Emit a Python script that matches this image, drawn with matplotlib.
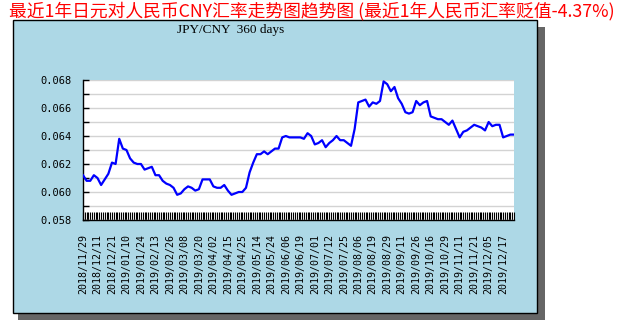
import numpy as np
import matplotlib.pyplot as plt
from matplotlib.patches import Rectangle
from matplotlib.ticker import MultipleLocator

plt.rcParams['font.family'] = ['Noto Sans CJK SC', 'DejaVu Sans']

title = "最近1年日元对人民币CNY汇率走势图趋势图 (最近1年人民币汇率贬值-4.37%)"
subtitle = "JPY/CNY  360 days"

date_labels = [
    "2018/11/29", "2018/12/11", "2018/12/21", "2019/01/10", "2019/01/24",
    "2019/02/13", "2019/02/26", "2019/03/08", "2019/03/20", "2019/04/02",
    "2019/04/15", "2019/04/25", "2019/05/14", "2019/05/24", "2019/06/06",
    "2019/06/19", "2019/07/01", "2019/07/12", "2019/07/25", "2019/08/06",
    "2019/08/19", "2019/08/29", "2019/09/11", "2019/09/26", "2019/10/16",
    "2019/10/29", "2019/11/11", "2019/11/21", "2019/12/05", "2019/12/17",
]
label_every = 8      # trading days between date labels
n_days = 240         # trading days shown (one tick per day)

# rate read every 2 trading days
rates = [
    0.0612, 0.0608, 0.0608, 0.0612, 0.0610, 0.0605, 0.0609, 0.0613, 0.0621, 0.0620,
    0.0638, 0.0631, 0.0630, 0.0624, 0.0621, 0.0620, 0.0620, 0.0616, 0.0617, 0.0618,
    0.0612, 0.0612, 0.0608, 0.0606, 0.0605, 0.0603, 0.0598, 0.0599, 0.0602, 0.0604,
    0.0603, 0.0601, 0.0602, 0.0609, 0.0609, 0.0609, 0.0604, 0.0603, 0.0603, 0.0605,
    0.0601, 0.0598, 0.0599, 0.0600, 0.0600, 0.0603, 0.0614, 0.0621, 0.0627, 0.0627,
    0.0629, 0.0627, 0.0629, 0.0631, 0.0631, 0.0639, 0.0640, 0.0639, 0.0639, 0.0639,
    0.0639, 0.0638, 0.0642, 0.0640, 0.0634, 0.0635, 0.0637, 0.0632, 0.0635, 0.0637,
    0.0640, 0.0637, 0.0637, 0.0635, 0.0633, 0.0645, 0.0664, 0.0665, 0.0666, 0.0661,
    0.0664, 0.0663, 0.0665, 0.0679, 0.0677, 0.0672, 0.0675, 0.0667, 0.0663, 0.0657,
    0.0656, 0.0657, 0.0665, 0.0662, 0.0664, 0.0665, 0.0654, 0.0653, 0.0652, 0.0652,
    0.0650, 0.0648, 0.0651, 0.0645, 0.0639, 0.0643, 0.0644, 0.0646, 0.0648, 0.0647,
    0.0646, 0.0644, 0.0650, 0.0647, 0.0648, 0.0648, 0.0639, 0.0640, 0.0641, 0.0641,
]

W, H = 630, 320
fig = plt.figure(figsize=(W / 100, H / 100), dpi=100)
fig.patch.set_facecolor('white')

# pixel coords -> figure fraction
def fx(px):
    return px / W

def fy(py):
    return 1 - py / H

# shadow, then the light blue panel
fig.patches.append(Rectangle((fx(18), fy(320)), fx(527), fy(27) - fy(320),
                             transform=fig.transFigure, facecolor='#666666',
                             edgecolor='none', zorder=0))
fig.patches.append(Rectangle((fx(13), fy(313)), fx(524), fy(20) - fy(313),
                             transform=fig.transFigure, facecolor='#add8e6',
                             edgecolor='black', linewidth=1, zorder=1))

fig.text(fx(9), fy(11), title, color='#ff0000', fontsize=12.8, ha='left', va='center')
fig.text(fx(231), fy(30), subtitle, family=['Liberation Serif', 'DejaVu Serif'],
         fontsize=9.5, ha='center', va='center')

ax = fig.add_axes([fx(83), fy(220), fx(431), fy(80) - fy(220)])
ax.set_zorder(5)
ax.set_facecolor('white')

x = np.arange(len(rates)) * 2
ax.plot(x, rates, color='#0000ff', linewidth=1.6, zorder=3)

ax.set_xlim(0, n_days - 2)
ax.set_ylim(0.058, 0.068)

ax.yaxis.set_minor_locator(MultipleLocator(0.001))
ax.set_yticks(np.arange(0.058, 0.0681, 0.002))
ax.set_yticklabels(["%.3f" % v for v in np.arange(0.058, 0.0681, 0.002)])
ax.grid(True, which='both', axis='y', color='#d3d3d3', linewidth=1, zorder=1)
ax.tick_params(axis='y', which='both', direction='in', length=4, width=1,
               labelsize=7.5, pad=8)
for t in ax.get_yticklabels():
    t.set_family('DejaVu Sans Mono')

ticks = np.arange(n_days - 1)
labels = [""] * len(ticks)
for i, d in enumerate(date_labels):
    labels[i * label_every] = d
ax.set_xticks(ticks)
ax.set_xticklabels(labels, rotation=90, family='DejaVu Sans Mono', fontsize=7.2)
ax.tick_params(axis='x', direction='in', length=6, width=0.8, pad=10)

for s in ['top', 'right']:
    ax.spines[s].set_visible(False)
for s in ['left', 'bottom']:
    ax.spines[s].set_color('black')
    ax.spines[s].set_linewidth(1)

fig.savefig('out.png', dpi=100)
